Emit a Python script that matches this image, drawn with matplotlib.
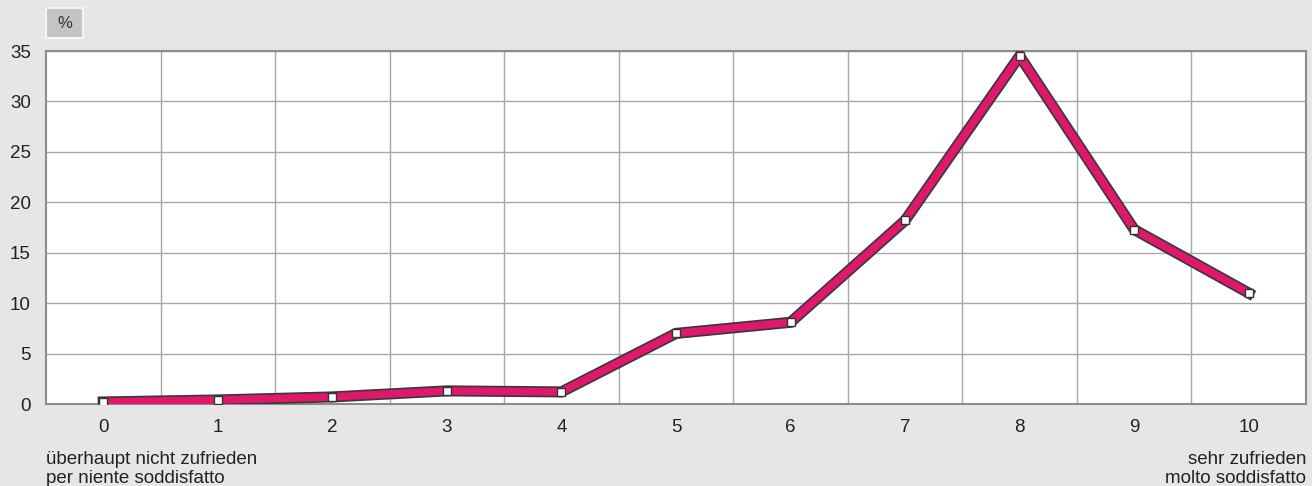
import matplotlib.pyplot as plt
import matplotlib.patheffects as pe
from matplotlib.patches import Rectangle

plt.rcParams['font.family'] = ['Liberation Sans', 'DejaVu Sans']

scores = [0, 1, 2, 3, 4, 5, 6, 7, 8, 9, 10]
percent = [0.2, 0.4, 0.7, 1.3, 1.2, 7.0, 8.1, 18.2, 34.5, 17.3, 11.0]
y_ticks = [0, 5, 10, 15, 20, 25, 30, 35]
left_label = ['überhaupt nicht zufrieden', 'per niente soddisfatto']
right_label = ['sehr zufrieden', 'molto soddisfatto']

bg = '#e6e6e6'
fs = 13.5
fig = plt.figure(figsize=(13.12, 4.86), dpi=100, facecolor=bg)
ax = fig.add_axes([46 / 1312, 1 - 404 / 486, 1260 / 1312, 353 / 486])
ax.set_facecolor('white')

ax.plot(scores, percent, color='#e0176b', lw=5.5, solid_joinstyle='miter',
        path_effects=[pe.Stroke(linewidth=8, foreground='#3a3a3a'), pe.Normal()],
        zorder=3)
ax.plot(scores, percent, ls='none', marker='s', ms=5.5, mfc='white',
        mec='#333333', mew=1.0, zorder=4)

ax.set_xlim(-0.5, 10.5)
ax.set_ylim(0, 35)
ax.set_xticks(scores)
ax.set_yticks(y_ticks)
ax.set_xticks([s + 0.5 for s in scores[:-1]], minor=True)
ax.grid(True, which='minor', axis='x', color='#a8a8a8', lw=1)
ax.grid(True, which='major', axis='y', color='#a8a8a8', lw=1)
ax.tick_params(which='both', length=0)
ax.tick_params(axis='x', pad=11, labelsize=fs, colors='#222222')
ax.tick_params(axis='y', pad=11, labelsize=fs, colors='#222222')
for side in ['left', 'bottom', 'top', 'right']:
    ax.spines[side].set_color('#8c8c8c')
    ax.spines[side].set_linewidth(1.5)

for i, (lt, rt) in enumerate(zip(left_label, right_label)):
    y = 1 - (459 + 19 * i) / 486
    fig.text(46 / 1312, y, lt, ha='left', va='center', fontsize=fs, color='#222222')
    fig.text(1306 / 1312, y, rt, ha='right', va='center', fontsize=fs, color='#222222')

fig.patches.append(Rectangle((46 / 1312, 1 - 38 / 486), 37 / 1312, 30 / 486,
                             transform=fig.transFigure, facecolor='#c4c4c4',
                             edgecolor='#f4f4f4', lw=1.5))
fig.text(64.5 / 1312, 1 - 24 / 486, '%', ha='center', va='center',
         fontsize=12, color='#333333')

fig.savefig('out.png', dpi=100, facecolor=bg)
